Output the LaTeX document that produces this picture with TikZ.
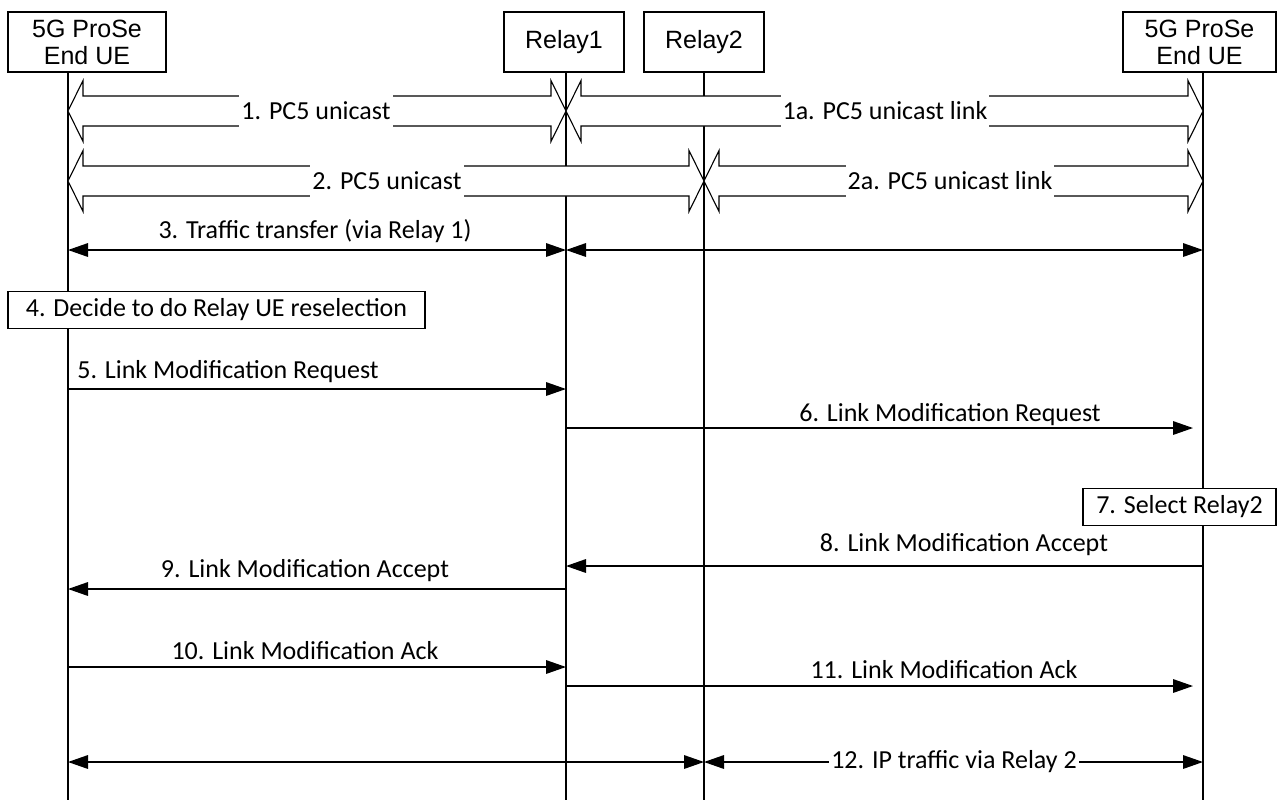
\documentclass[tikz,border=0pt]{standalone}
\usepackage{fontspec}
\setmainfont{Carlito}
\newfontfamily\arialf{Liberation Sans}
\usetikzlibrary{arrows.meta}
\newcommand\hollowarrow[3]{%
  \draw[hollow] (#1,#3) -- (#1+15,#3-30.5) -- (#1+15,#3-15) -- (#2-15,#3-15)
    -- (#2-15,#3-30.5) -- (#2,#3) -- (#2-15,#3+30.5) -- (#2-15,#3+15)
    -- (#1+15,#3+15) -- (#1+15,#3+30.5) -- cycle;}
\begin{document}
\begin{tikzpicture}[x=0.5pt,y=-0.5pt,
  >={Triangle[length=10pt,width=6.8pt]},
  head/.style={draw, line width=0.6pt, inner sep=0pt, align=center,
    font=\arialf\fontsize{12.5}{13.5}\selectfont, minimum height=30pt},
  life/.style={line width=0.65pt},
  hollow/.style={draw, fill=white, line width=0.55pt},
  lbl/.style={inner sep=0pt, font=\fontsize{13}{15}\selectfont},
  hlbl/.style={lbl, fill=white, inner xsep=1pt, minimum height=17pt},
  msg/.style={line width=0.65pt},
  stepbox/.style={draw, fill=white, line width=0.6pt, inner sep=0pt, minimum height=18.5pt,
    font=\fontsize{13}{15}\selectfont}
]
\useasboundingbox (0,0) rectangle (1282,800);
% heads
\node[head, minimum width=79pt] (ueL) at (87,42) {5G ProSe\\End UE};
\node[head, minimum width=60pt] (r1) at (564,42) {Relay1};
\node[head, minimum width=60pt] (r2) at (704,42) {Relay2};
\node[head, minimum width=76.5pt] (ueR) at (1199.5,42) {5G ProSe\\End UE};
% lifeline coordinates
\coordinate (l0) at (68,0);
\coordinate (l1) at (566,0);
\coordinate (l2) at (704,0);
\coordinate (l3) at (1203,0);
\coordinate (l3s) at (1193,0);
\coordinate (bot) at (0,800);
\draw[life] (l0 |- ueL.south) -- (l0 |- bot);
\draw[life] (l1 |- r1.south) -- (l1 |- bot);
\draw[life] (l2 |- r2.south) -- (l2 |- bot);
\draw[life] (l3 |- ueR.south) -- (l3 |- bot);
% hollow arrows
\hollowarrow{68}{566}{111}
\hollowarrow{566}{1203}{111}
\hollowarrow{68}{704}{181}
\hollowarrow{704}{1203}{181}
\node[hlbl] (t1) at (316,111) {1. PC5 unicast};
\node[hlbl] (t1a) at (885,111) {1a. PC5 unicast link};
\node[hlbl] (t2) at (387,181) {2. PC5 unicast};
\node[hlbl] (t2a) at (950,181) {2a. PC5 unicast link};
% 3
\draw[msg,<->] (l0 |- 0,250) -- (l1 |- 0,250);
\draw[msg,<->] (l1 |- 0,250) -- (l3 |- 0,250);
\node[lbl, anchor=base] (t3) at (315,238) {3. Traffic transfer (via Relay 1)};
% 4
\node[stepbox, minimum width=208.5pt] (s4) at (216.5,310) {4. Decide to do Relay UE reselection};
% 5
\draw[msg,->] (l0 |- 0,389) -- (l1 |- 0,389);
\node[lbl, anchor=base] (t5) at (228,378) {5. Link Modification Request};
% 6
\draw[msg,->] (l1 |- 0,428) -- (l3s |- 0,428);
\node[lbl, anchor=base] (t6) at (950,421) {6. Link Modification Request};
% 7
\node[stepbox, minimum width=96.5pt] (s7) at (1179.5,507) {7. Select Relay2};
% 8
\draw[msg,->] (l3 |- 0,566) -- (l1 |- 0,566);
\node[lbl, anchor=base] (t8) at (964,551) {8. Link Modification Accept};
% 9
\draw[msg,->] (l1 |- 0,589) -- (l0 |- 0,589);
\node[lbl, anchor=base] (t9) at (305,577) {9. Link Modification Accept};
% 10
\draw[msg,->] (l0 |- 0,667) -- (l1 |- 0,667);
\node[lbl, anchor=base] (t10) at (305,659) {10. Link Modification Ack};
% 11
\draw[msg,->] (l1 |- 0,686) -- (l3s |- 0,686);
\node[lbl, anchor=base] (t11) at (944,678) {11. Link Modification Ack};
% 12
\draw[msg,<->] (l0 |- 0,762) -- (l2 |- 0,762);
\draw[msg,<->] (l2 |- 0,762) -- (l3 |- 0,762);
\node[lbl, fill=white, inner xsep=1pt, inner ysep=1pt] (t12) at (954,762) {12. IP traffic via Relay 2};
\end{tikzpicture}
\end{document}
